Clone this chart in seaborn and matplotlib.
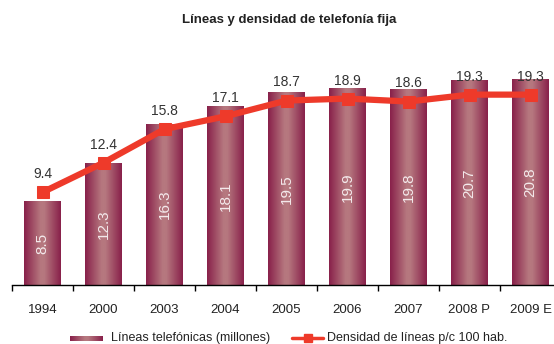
import numpy as np
import pandas as pd
import matplotlib
matplotlib.use("Agg")
import matplotlib.pyplot as plt
from matplotlib.colors import LinearSegmentedColormap
from matplotlib.lines import Line2D
import seaborn as sns

years = ["1994", "2000", "2003", "2004", "2005", "2006", "2007", "2008 P", "2009 E"]
lineas = [8.5, 12.3, 16.3, 18.1, 19.5, 19.9, 19.8, 20.7, 20.8]
densidad = [9.4, 12.4, 15.8, 17.1, 18.7, 18.9, 18.6, 19.3, 19.3]

sns.set_theme(style="white")
plt.rcParams["font.family"] = ["Liberation Sans", "DejaVu Sans"]

W, H = 554, 344
fig = plt.figure(figsize=(W / 100, H / 100), dpi=100)
ax = fig.add_axes([12 / W, 59 / H, 549 / W, 217 / H])

df = pd.DataFrame({"anio": years, "lineas": lineas, "densidad": densidad})
sns.barplot(data=df, x="anio", y="lineas", ax=ax, width=0.6, color="#9a3a5a",
            saturation=1, zorder=2)

# horizontal gradient fill for the bars: dark edges, lighter centre
dark, light = "#88204a", "#b6787f"
grad_cmap = LinearSegmentedColormap.from_list(
    "bar", [(0, dark), (0.45, light), (0.55, light), (1, dark)], N=256)
grad = np.linspace(0, 1, 256).reshape(1, -1)
for p in ax.patches:
    x0, w, h = p.get_x(), p.get_width(), p.get_height()
    ax.imshow(grad, cmap=grad_cmap, extent=[x0, x0 + w, 0, h], aspect="auto",
              zorder=2, interpolation="bilinear")
    p.set_visible(False)
    ax.text(x0 + w / 2, h / 2, f"{h:.1f}", rotation=90, ha="center",
            va="center", color="#f4eaec", fontsize=11, zorder=4)

pos = np.arange(len(years))
red = "#ee3a2a"
sns.lineplot(x=pos, y=densidad, ax=ax, color=red, linewidth=4.5, marker="s",
             markersize=9, markeredgecolor=red, markerfacecolor=red, zorder=3)
for x, v in zip(pos, densidad):
    ax.annotate(f"{v:.1f}", (x, v), xytext=(0, 13), textcoords="offset points",
                ha="center", va="center", fontsize=10, color="#333333")

ax.set_xlim(-0.5, len(years) - 0.5)
ax.set_ylim(0, 22)
ax.set_xlabel("")
ax.set_ylabel("")
ax.set_yticks([])
ax.set_xticks(np.arange(len(years) + 1) - 0.5)
ax.set_xticklabels([])
ax.set_xticks(pos, minor=True)
ax.set_xticklabels(years, minor=True, fontsize=9.5, color="#222222")
ax.tick_params(axis="x", which="major", direction="out", length=4, width=1,
               color="black", bottom=True)
ax.tick_params(axis="x", which="minor", length=0, pad=14)
for s in ["top", "right", "left"]:
    ax.spines[s].set_visible(False)
ax.spines["bottom"].set_color("black")
ax.spines["bottom"].set_linewidth(1)
ax.set_facecolor("white")

fig.text(289 / W, 1 - 20 / H, "Líneas y densidad de telefonía fija",
         ha="center", va="center", fontsize=9.5, fontweight="bold",
         color="#222222")

# legend row
sw = fig.add_axes([70 / W, (H - 341) / H, 33 / W, 5 / H])
sw.imshow(grad, cmap=grad_cmap, aspect="auto", extent=[0, 1, 0, 1])
sw.set_axis_off()
fig.text(111 / W, 1 - 338 / H, "Líneas telefónicas (millones)", ha="left",
         va="center", fontsize=9, color="#222222")
fig.add_artist(Line2D([292 / W, 323 / W], [1 - 338 / H, 1 - 338 / H],
                      transform=fig.transFigure, color=red, linewidth=2.5))
fig.add_artist(Line2D([308 / W], [1 - 338 / H], transform=fig.transFigure,
                      color=red, marker="s", markersize=6, linestyle="none"))
fig.text(327 / W, 1 - 338 / H, "Densidad de líneas p/c 100 hab.", ha="left",
         va="center", fontsize=9, color="#222222")

fig.savefig("out.png", dpi=100, facecolor="white")
